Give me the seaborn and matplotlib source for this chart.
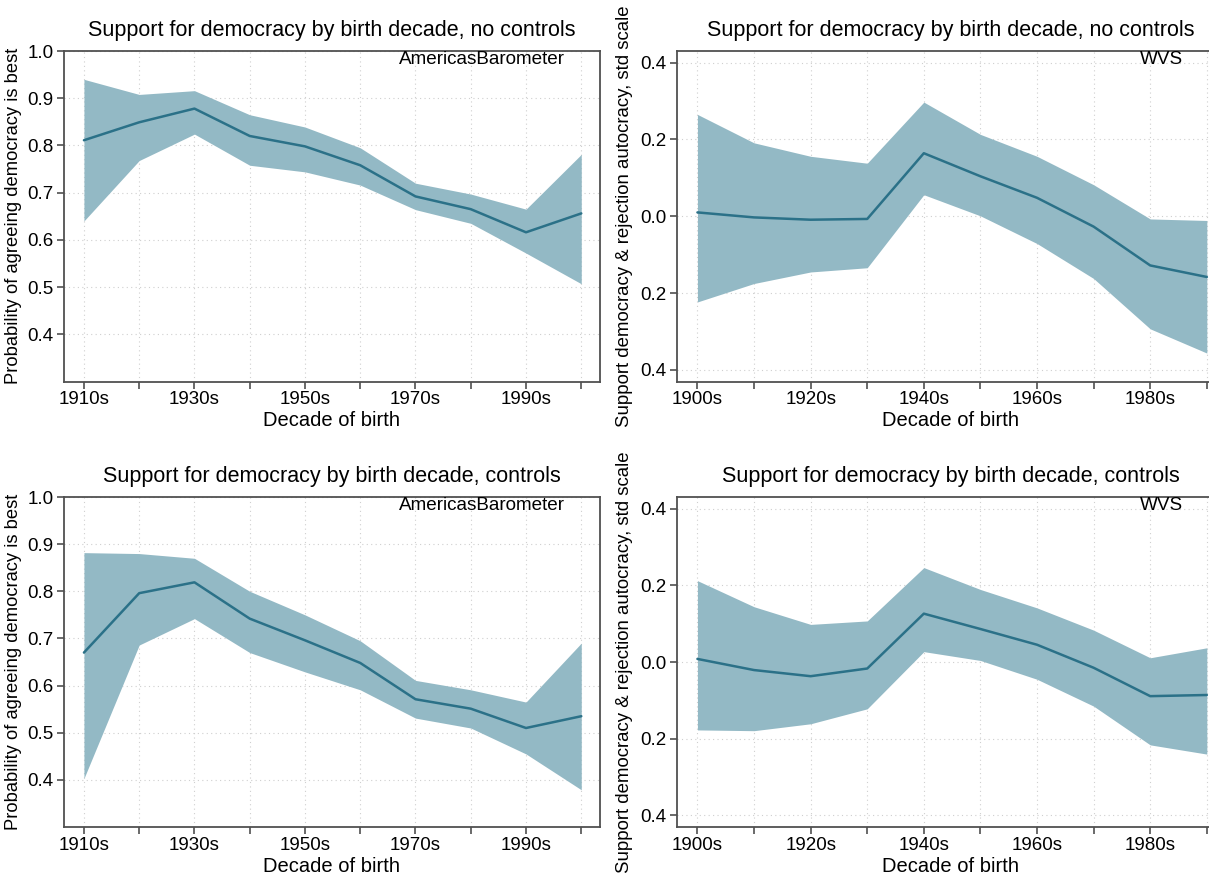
import matplotlib
matplotlib.use("Agg")
import matplotlib.pyplot as plt
import matplotlib.transforms as mtransforms
import seaborn as sns
import pandas as pd

# AmericasBarometer (birth decades 1910s-2000s)
ab_decades = [1910, 1920, 1930, 1940, 1950, 1960, 1970, 1980, 1990, 2000]
ab_nc_est = [0.811, 0.849, 0.878, 0.820, 0.798, 0.758, 0.692, 0.665, 0.616, 0.656]
ab_nc_hi = [0.940, 0.908, 0.916, 0.865, 0.839, 0.795, 0.720, 0.697, 0.665, 0.781]
ab_nc_lo = [0.640, 0.768, 0.824, 0.758, 0.744, 0.716, 0.664, 0.635, 0.572, 0.507]

ab_c_est = [0.670, 0.796, 0.819, 0.742, 0.696, 0.648, 0.571, 0.551, 0.510, 0.535]
ab_c_hi = [0.882, 0.880, 0.870, 0.800, 0.750, 0.695, 0.611, 0.591, 0.565, 0.690]
ab_c_lo = [0.403, 0.686, 0.742, 0.670, 0.629, 0.591, 0.531, 0.510, 0.455, 0.379]

# WVS (birth decades 1900s-1990s)
wvs_decades = [1900, 1910, 1920, 1930, 1940, 1950, 1960, 1970, 1980, 1990]
wvs_nc_est = [0.010, -0.003, -0.009, -0.007, 0.164, 0.104, 0.048, -0.027, -0.128, -0.158]
wvs_nc_hi = [0.265, 0.191, 0.156, 0.138, 0.297, 0.213, 0.156, 0.082, -0.007, -0.011]
wvs_nc_lo = [-0.223, -0.175, -0.145, -0.134, 0.056, 0.001, -0.071, -0.162, -0.293, -0.356]

wvs_c_est = [0.008, -0.021, -0.037, -0.017, 0.126, 0.086, 0.045, -0.015, -0.089, -0.086]
wvs_c_hi = [0.212, 0.144, 0.098, 0.107, 0.246, 0.189, 0.141, 0.083, 0.011, 0.037]
wvs_c_lo = [-0.177, -0.179, -0.161, -0.122, 0.027, 0.004, -0.045, -0.115, -0.216, -0.240]

ab_xlabels = ["1910s", "", "1930s", "", "1950s", "", "1970s", "", "1990s", ""]
wvs_xlabels = ["1900s", "", "1920s", "", "1940s", "", "1960s", "", "1980s", ""]
ab_yticks = [0.4, 0.5, 0.6, 0.7, 0.8, 0.9, 1.0]
ab_ylabels = ["0.4", "0.5", "0.6", "0.7", "0.8", "0.9", "1.0"]
wvs_yticks = [-0.4, -0.2, 0.0, 0.2, 0.4]
wvs_ylabels = ["0.4", "0.2", "0.0", "0.2", "0.4"]

line_color = "#2b7188"
band_color = "#93b9c5"
spine_color = "#505050"

sns.set_theme(style="white")
plt.rcParams["font.family"] = ["Liberation Sans", "DejaVu Sans"]
plt.rcParams["text.color"] = "black"
plt.rcParams["axes.labelcolor"] = "black"
plt.rcParams["xtick.color"] = "black"
plt.rcParams["ytick.color"] = "black"

fig = plt.figure(figsize=(12.09, 8.8), dpi=100)
W, H = 1209, 880


def make_ax(left, top, right, bottom):
    return fig.add_axes([left / W, 1 - bottom / H, (right - left) / W, (bottom - top) / H])


axes = [
    make_ax(63.5, 51, 599.5, 381.5),
    make_ax(676.5, 51, 1225.5, 381.5),
    make_ax(63.5, 497, 599.5, 827),
    make_ax(676.5, 497, 1225.5, 827),
]

panels = [
    (ab_decades, ab_nc_est, ab_nc_lo, ab_nc_hi, "no controls", "AmericasBarometer"),
    (wvs_decades, wvs_nc_est, wvs_nc_lo, wvs_nc_hi, "no controls", "WVS"),
    (ab_decades, ab_c_est, ab_c_lo, ab_c_hi, "controls", "AmericasBarometer"),
    (wvs_decades, wvs_c_est, wvs_c_lo, wvs_c_hi, "controls", "WVS"),
]

for ax, (dec, est, lo, hi, ctrl, source) in zip(axes, panels):
    df = pd.DataFrame({"decade": dec, "est": est})
    ax.fill_between(dec, lo, hi, color=band_color, linewidth=0, zorder=2)
    sns.lineplot(data=df, x="decade", y="est", ax=ax, color=line_color, linewidth=1.8, zorder=3)

    ax.set_xlim(dec[0] - 3.7, dec[-1] + 3.3)
    ax.set_xticks(dec)
    is_ab = source == "AmericasBarometer"
    ax.set_xticklabels(ab_xlabels if is_ab else wvs_xlabels)
    if is_ab:
        ax.set_ylim(0.3, 1.0)
        ax.set_yticks(ab_yticks)
        ax.set_yticklabels(ab_ylabels)
        ax.set_ylabel("Probability of agreeing democracy is best", fontsize=13.2)
        ax.yaxis.set_label_coords(-0.077, 0.5)
    else:
        ax.set_ylim(-0.43, 0.43)
        ax.set_yticks(wvs_yticks)
        ax.set_yticklabels(wvs_ylabels)
        ax.set_ylabel("Support democracy & rejection autocracy, std scale", fontsize=13.4)
        ax.yaxis.set_label_coords(-0.08, 0.5)

    ax.set_xlabel("Decade of birth", fontsize=14.5, labelpad=2)
    ax.set_title(f"Support for democracy by birth decade, {ctrl}", fontsize=15.5, pad=11)

    ax.grid(True, linestyle=(0, (1, 3)), color="#cfcfcf", linewidth=0.8, zorder=0)
    ax.set_axisbelow(True)
    for s in ax.spines.values():
        s.set_color(spine_color)
        s.set_linewidth(1.3)
    ax.tick_params(axis="both", which="major", labelsize=13.5, length=5, width=1.2,
                   color=spine_color, labelcolor="black", direction="out", pad=2,
                   left=True, bottom=True)

    trans = mtransforms.blended_transform_factory(ax.transData, ax.transAxes)
    ax.text(1982, 0.975, source, transform=trans, ha="center", va="center", fontsize=13.6)

fig.savefig("out.png", dpi=100)
